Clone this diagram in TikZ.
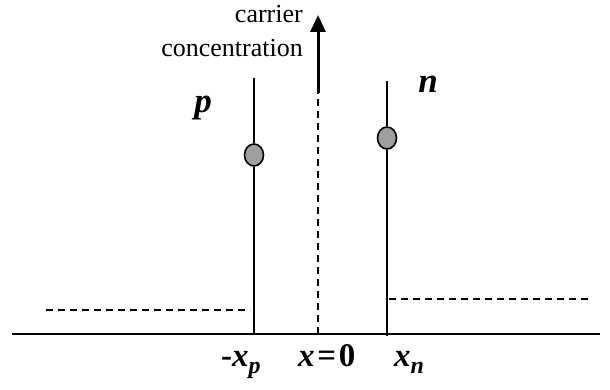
\documentclass[tikz,border=0pt]{standalone}
\usepackage{fontspec}
\setmainfont{Liberation Serif}
\usepackage{tikz}
\usetikzlibrary{positioning,arrows.meta,calc,shapes.geometric}
\newcommand{\sbs}[1]{\raisebox{-0.22em}{\fontsize{24}{24}\selectfont\textit{#1}}}

\begin{document}
\begin{tikzpicture}[
  x=1pt, y=-1pt,
  axis/.style={line width=1.6pt},
  edge/.style={line width=1.3pt},
  lvl/.style={line width=1.3pt, dash pattern=on 7pt off 5pt},
  mid/.style={line width=1.8pt, dash pattern=on 7pt off 5pt},
  up/.style={line width=3pt, -{Triangle[length=17pt, width=15pt]}},
  dot/.style={ellipse, draw, line width=1.6pt, fill=gray!75, minimum width=19pt, minimum height=22pt, inner sep=0pt},
  txt/.style={font=\fontsize{26}{34}\selectfont, inner sep=0pt},
  side/.style={font=\fontsize{35}{38}\selectfont\bfseries\itshape, inner sep=0pt},
  tick/.style={font=\fontsize{33}{36}\selectfont\bfseries, inner sep=0pt, anchor=base west}
]
\useasboundingbox (0,0) rectangle (610,390);

% axis and junction edges
\coordinate (ax0) at (12,334);
\coordinate (ax1) at (600,334);
\coordinate (pt) at (254,78);
\coordinate (pb) at (254,334);
\coordinate (nt) at (387,81);
\coordinate (nb) at (387,336);
\coordinate (mb) at (318,334);
\coordinate (mt) at (318,93);
\coordinate (tip) at (318,15);

% carrier levels
\coordinate (pl0) at (46,310);
\coordinate (pl1) at (250,310);
\coordinate (nl0) at (389,299);
\coordinate (nl1) at (592,299);

\node[dot] (pdot) at (254,155) {};
\node[dot] (ndot) at (387,138) {};

\node[txt, anchor=base east] (car) at (303,23) {carrier};
\node[txt, anchor=base east] (conc) at (303,57) {concentration};
\node[side, anchor=base] (plbl) at (203,113) {p};
\node[side, anchor=base] (nlbl) at (428,93) {n};

\node[tick] (xp) at (221,366) {-\textit{x}\sbs{p}};
\node[tick] (x0) at (298,366) {\textit{x}\hspace{0.08em}=\hspace{0.08em}0};
\node[tick] (xn) at (394,366) {\textit{x}\sbs{n}};

\draw[axis] (ax0) -- (ax1);
\draw[edge] (pt) -- (pdot);
\draw[edge] (pdot) -- (pb);
\draw[edge] (nt) -- (ndot);
\draw[edge] (ndot) -- (nb);
\draw[mid] (mb) -- (mt);
\draw[up] (mt) -- (tip);
\draw[lvl] (pl0) -- (pl1);
\draw[lvl] (nl0) -- (nl1);
\end{tikzpicture}
\end{document}
